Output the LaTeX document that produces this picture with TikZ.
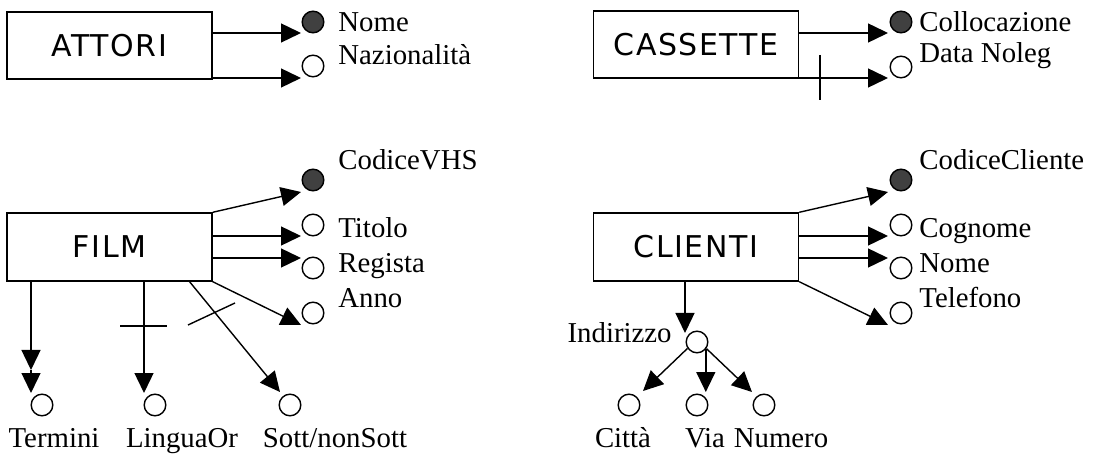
\documentclass[tikz,border=0pt]{standalone}
\usepackage{fontspec}
\setmainfont{Liberation Serif}
\newfontfamily\boxfont[LetterSpace=5]{DejaVu Sans}
\usetikzlibrary{arrows.meta}
\begin{document}
\begin{tikzpicture}[x=0.5pt,y=-0.5pt,
  ent/.style={draw,line width=0.7pt,inner sep=0pt,minimum width=102.5pt,
    font=\boxfont\fontsize{15}{18}\selectfont},
  att/.style={draw,circle,line width=0.7pt,minimum size=10.8pt,inner sep=0pt},
  keyatt/.style={att,fill=black!75},
  lbl/.style={font=\fontsize{14.4}{17}\selectfont,inner sep=0pt},
  arr/.style={line width=0.7pt,-{Triangle[length=10pt,width=9.5pt]}},
  tickmark/.style={line width=0.7pt}]
\useasboundingbox (0,0) rectangle (1098,454);

% entities
\node[ent,minimum height=33.5pt] (attori) at (109.5,45.5) {ATTORI};
\node[ent,minimum height=33.5pt] (cassette) at (696,44.5) {CASSETTE};
\node[ent,minimum height=34pt] (film) at (109.5,247) {FILM};
\node[ent,minimum height=34pt] (clienti) at (696,247) {CLIENTI};

% attribute circles
\node[keyatt] (cNome) at (313,22) {};
\node[att] (cNaz) at (313,66) {};
\node[keyatt] (cColl) at (901,22) {};
\node[att] (cData) at (901,67) {};
\node[keyatt] (cVHS) at (313,180) {};
\node[att] (cTit) at (313,225) {};
\node[att] (cReg) at (313,268) {};
\node[att] (cAnno) at (313,313) {};
\node[att] (cTer) at (42,405) {};
\node[att] (cLin) at (155,405) {};
\node[att] (cSott) at (290,405) {};
\node[keyatt] (cCC) at (901,180) {};
\node[att] (cCog) at (901,225) {};
\node[att] (cNomeC) at (901,268) {};
\node[att] (cTel) at (901,313) {};
\node[att] (cInd) at (697,342) {};
\node[att] (cCitta) at (629,405) {};
\node[att] (cVia) at (697,405) {};
\node[att] (cNum) at (764,405) {};

% labels
\node[lbl,anchor=base west] (lNome) at (338,32) {Nome};
\node[lbl,anchor=base west] (lNaz) at (338,65) {Nazionalità};
\node[lbl,anchor=base west] (lColl) at (919,32) {Collocazione};
\node[lbl,anchor=base west] (lData) at (919,63) {Data Noleg};
\node[lbl,anchor=base west] (lVHS) at (338,170) {CodiceVHS};
\node[lbl,anchor=base west] (lTit) at (338,238) {Titolo};
\node[lbl,anchor=base west] (lReg) at (338,273) {Regista};
\node[lbl,anchor=base west] (lAnno) at (338,307) {Anno};
\node[lbl,anchor=base west] (lCC) at (919,170) {CodiceCliente};
\node[lbl,anchor=base west] (lCog) at (919,238) {Cognome};
\node[lbl,anchor=base west] (lNomeC) at (919,273) {Nome};
\node[lbl,anchor=base west] (lTel) at (919,307) {Telefono};
\node[lbl,anchor=base east] (lInd) at (672,343) {Indirizzo};
\node[lbl,anchor=base] (lTer) at (54,447) {Termini};
\node[lbl,anchor=base] (lLin) at (182,447) {LinguaOr};
\node[lbl,anchor=base] (lSott) at (335,447) {Sott/nonSott};
\node[lbl,anchor=base] (lCitta) at (623,447) {Città};
\node[lbl,anchor=base] (lVia) at (705,447) {Via};
\node[lbl,anchor=base] (lNum) at (781,447) {Numero};

% arrow tips
\coordinate (tNome) at (301,33);
\coordinate (tNaz) at (301,78);
\coordinate (tColl) at (888,33);
\coordinate (tData) at (888,78);
\coordinate (tVHS) at (301,192);
\coordinate (tTit) at (301,236);
\coordinate (tReg) at (301,258);
\coordinate (tAnno) at (301,325);
\coordinate (tTer1) at (31,370);
\coordinate (tTer2) at (31,393);
\coordinate (tLin) at (144,393);
\coordinate (sSott) at (189,281);
\coordinate (tSott) at (280,392);
\coordinate (tCC) at (888,192);
\coordinate (tCog) at (888,236);
\coordinate (tNomeC) at (888,258);
\coordinate (tTel) at (888,325);
\coordinate (tInd) at (685,333);
\coordinate (tCitta) at (643,391);
\coordinate (tVia) at (706,392);
\coordinate (tNum) at (752,392);

% connectors
\draw[arr] (attori.east |- tNome) -- (tNome);
\draw[arr] (attori.east |- tNaz) -- (tNaz);
\draw[arr] (cassette.east |- tColl) -- (tColl);
\draw[arr] (cassette.east |- tData) -- (tData);
\draw[arr] (film.north east) -- (tVHS);
\draw[arr] (film.east |- tTit) -- (tTit);
\draw[arr] (film.east |- tReg) -- (tReg);
\draw[arr] (film.south east) -- (tAnno);
\draw[arr] (film.south -| tTer1) -- (tTer1);
\draw[arr] (tTer1) -- (tTer2);
\draw[arr] (film.south -| tLin) -- (tLin);
\draw[arr] (sSott) -- (tSott);
\draw[arr] (clienti.north east) -- (tCC);
\draw[arr] (clienti.east |- tCog) -- (tCog);
\draw[arr] (clienti.east |- tNomeC) -- (tNomeC);
\draw[arr] (clienti.south east) -- (tTel);
\draw[arr] (clienti.south -| tInd) -- (tInd);
\draw[arr] (cInd.214) -- (tCitta);
\draw[arr] (cInd.-40) -- (cInd.-40 |- tVia);
\draw[arr] (cInd.-35) -- (tNum);

% cardinality ticks
\draw[tickmark] (820,55) -- (820,100);
\draw[tickmark] (120,326) -- (167,326);
\draw[tickmark] (188,325) -- (235,303);
\end{tikzpicture}
\end{document}
